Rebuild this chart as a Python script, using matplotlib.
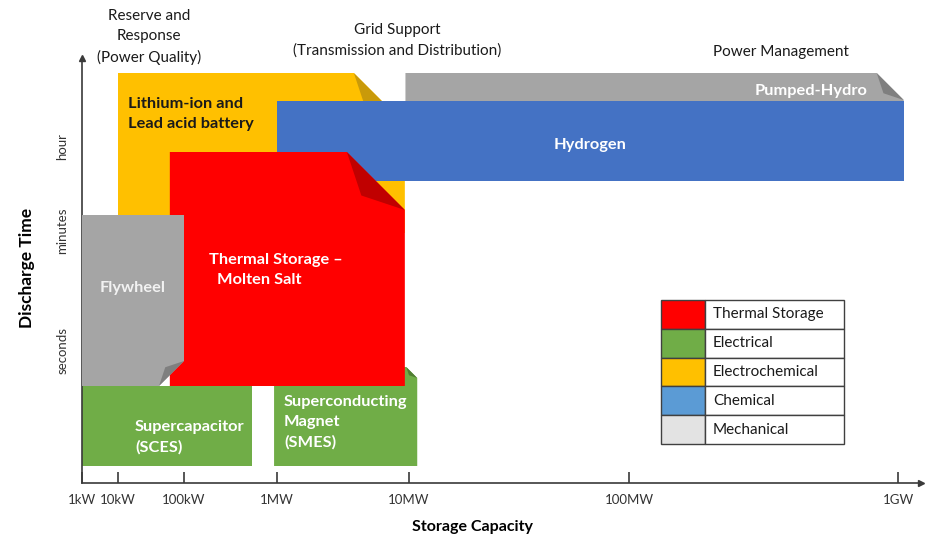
import numpy as np
import matplotlib
matplotlib.use("Agg")
import matplotlib.pyplot as plt
from matplotlib.patches import Polygon, Rectangle

plt.rcParams["font.family"] = ["Lato", "DejaVu Sans"]

# storage capacity ticks (kW) and where they sit on the hand-drawn axis
tick_kw = [1, 10, 100, 1e3, 1e4, 1e5, 1e6]
tick_labels = ["1kW", "10kW", "100kW", "1MW", "10MW", "100MW", "1GW"]
axis_logs = [-1, 0, 1, 2, 3, 4, 5, 6, 7]
axis_pos = [46, 82, 118, 184, 277, 409, 629, 898, 1167]

# discharge time levels (arbitrary units, 0 = axis)
time_ticks = [1.33, 2.52, 3.36]
time_labels = ["seconds", "minutes", "hour"]

# technologies: capacity range (kW) and discharge-time range
techs = ["Li-ion", "Pumped-Hydro", "Hydrogen", "SMES", "SCES", "Thermal", "Flywheel"]
cap_lo = [10, 9400, 1000, 930, 1, 61, 1]
cap_hi = [9300, 1.05e6, 1.05e6, 10900, 540, 9300, 100]
time_lo = [2.5, 3.82, 3.02, 0.17, 0.17, 0.97, 0.97]
time_hi = [4.10, 4.10, 3.82, 1.16, 0.97, 3.31, 2.68]
colors = ["#FFC000", "#A5A5A5", "#4472C4", "#70AD47", "#70AD47", "#FF0000", "#A5A5A5"]
fold_colors = ["#C99A0A", "#7F7F7F", None, "#507E32", None, "#C00000", "#7F7F7F"]
fold_corner = ["tr", "tr", None, "tr", None, "tr", "br"]
fold_size = [51, 27, 0, 11, 0, 58, 25]
layer = [1, 1, 2, 2, 2, 3, 4]

legend_labels = ["Thermal Storage", "Electrical", "Electrochemical", "Chemical", "Mechanical"]
legend_colors = ["#FF0000", "#70AD47", "#FFC000", "#5B9BD5", "#E3E3E3"]


def fwd(x):
    return np.interp(np.log10(np.clip(x, 1e-9, None)), axis_logs, axis_pos)


def inv(p):
    return 10 ** np.interp(p, axis_pos, axis_logs)


W, H = 926, 538
fig = plt.figure(figsize=(W / 100, H / 100), dpi=100)
ax = fig.add_axes([82 / W, 55 / H, (921 - 82) / W, (483 - 58) / H])
ax.set_xscale("function", functions=(fwd, inv))
ax.set_xlim(1, inv(921))
ax.set_ylim(0, 4.25)

for s in ["top", "right"]:
    ax.spines[s].set_visible(False)
for s in ["left", "bottom"]:
    ax.spines[s].set_color("#3a3a3a")
    ax.spines[s].set_linewidth(1.2)
ax.plot(1, 0, ">", color="#3a3a3a", ms=5, transform=ax.transAxes, clip_on=False)
ax.plot(0, 1, "^", color="#3a3a3a", ms=5, transform=ax.transAxes, clip_on=False)

ax.set_xticks(tick_kw)
ax.set_xticklabels(tick_labels)
ax.xaxis.set_minor_locator(matplotlib.ticker.NullLocator())
ax.tick_params(axis="x", direction="in", length=8, width=1.2, color="#3a3a3a",
               pad=8, labelsize=9.5, labelcolor="#333333")
ax.set_yticks(time_ticks)
ax.set_yticklabels(time_labels, rotation=90, va="center")
ax.tick_params(axis="y", length=0, pad=10, labelsize=9.5, labelcolor="#333333")

fig.canvas.draw()
T = ax.transData
Ti = T.inverted()

for i in range(len(techs)):
    (x0, y0), (x1, y1) = T.transform([(cap_lo[i], time_lo[i]), (cap_hi[i], time_hi[i])])
    d = fold_size[i]
    if fold_corner[i] == "tr":
        pts = [(x0, y0), (x1, y0), (x1, y1 - d), (x1 - d, y1), (x0, y1)]
        tri = [(x1 - d, y1), (x1, y1 - d), (x1 - 0.75 * d, y1 - 0.75 * d)]
    elif fold_corner[i] == "br":
        pts = [(x0, y0), (x1 - d, y0), (x1, y0 + d), (x1, y1), (x0, y1)]
        tri = [(x1 - d, y0), (x1, y0 + d), (x1 - 0.75 * d, y0 + 0.75 * d)]
    else:
        pts = [(x0, y0), (x1, y0), (x1, y1), (x0, y1)]
        tri = None
    ax.add_patch(Polygon(Ti.transform(pts), closed=True, facecolor=colors[i],
                         edgecolor="none", zorder=layer[i], clip_on=False))
    if tri is not None:
        ax.add_patch(Polygon(Ti.transform(tri), closed=True, facecolor=fold_colors[i],
                             edgecolor="none", zorder=layer[i] + 0.1, clip_on=False))


def px(x, y):
    return x / W, 1 - y / H


bold = dict(fontsize=11.8, fontweight="bold", linespacing=1.55)
fig.text(*px(128, 114), "Lithium-ion and\nLead acid battery", ha="left", va="center",
         color="#1a1a1a", **bold)
fig.text(*px(590, 145), "Hydrogen", ha="center", va="center", color="white", **bold)
fig.text(*px(811, 91), "Pumped-Hydro", ha="center", va="center", color="white", **bold)
fig.text(*px(209, 270), "Thermal Storage \u2013\n  Molten Salt", ha="left", va="center",
         color="white", **bold)
fig.text(*px(133, 288), "Flywheel", ha="center", va="center", color="#F2F2F2", **bold)
fig.text(*px(135, 437), "Supercapacitor\n(SCES)", ha="left", va="center",
         color="white", **bold)
fig.text(*px(284, 422), "Superconducting\nMagnet\n(SMES)", ha="left", va="center",
         color="white", **bold)

hdr = dict(fontsize=11, color="#1a1a1a", ha="center", va="center", linespacing=1.55)
fig.text(*px(149, 37), "Reserve and\nResponse\n(Power Quality)", **hdr)
fig.text(*px(397, 40), "Grid Support\n(Transmission and Distribution)", **hdr)
fig.text(*px(781, 52), "Power Management", **hdr)

fig.text(*px(472, 527), "Storage Capacity", ha="center", va="center",
         fontsize=11.5, fontweight="bold")
fig.text(*px(27, 268), "Discharge Time", ha="center", va="center", rotation=90,
         fontsize=12.5, fontweight="bold")

# legend table
lax = fig.add_axes([661 / W, 1 - 444 / H, 183 / W, 144 / H])
lax.set_xlim(0, 183)
lax.set_ylim(0, len(legend_labels))
lax.axis("off")
for k, (lab, c) in enumerate(zip(legend_labels, legend_colors)):
    yb = len(legend_labels) - 1 - k
    lax.add_patch(Rectangle((0, yb), 44, 1, facecolor=c, edgecolor="#404040", lw=1,
                            clip_on=False))
    lax.add_patch(Rectangle((44, yb), 139, 1, facecolor="white", edgecolor="#404040",
                            lw=1, clip_on=False))
    lax.text(52, yb + 0.5, lab, ha="left", va="center", fontsize=11, color="#1a1a1a")

fig.savefig("out.png", dpi=100)
